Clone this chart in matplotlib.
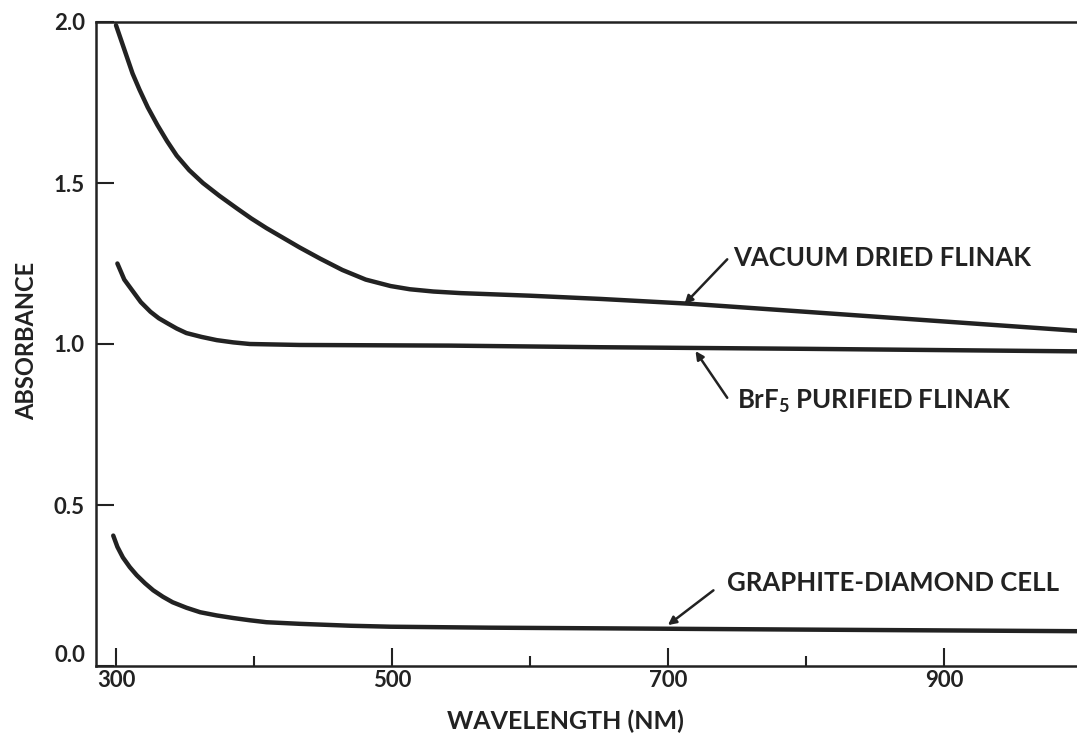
import matplotlib
matplotlib.use("Agg")
import matplotlib.pyplot as plt

# values (wavelength in nm, absorbance)
vacuum_wl = [300, 304, 308, 312, 317, 323, 330, 337, 344, 353, 363, 375, 388, 398, 409,
             421, 433, 448, 464, 481, 499, 513, 530, 550, 600, 651, 716, 800, 900, 1000]
vacuum_abs = [1.99, 1.94, 1.89, 1.84, 1.79, 1.735, 1.68, 1.63, 1.585, 1.54, 1.50, 1.46,
              1.42, 1.39, 1.36, 1.33, 1.30, 1.265, 1.23, 1.20, 1.18, 1.17, 1.163,
              1.158, 1.15, 1.14, 1.125, 1.10, 1.07, 1.04]

brf5_wl = [301, 306, 312, 318, 325, 331, 337, 344, 351, 362, 373, 385, 397, 433, 542,
           651, 800, 1000]
brf5_abs = [1.25, 1.20, 1.165, 1.13, 1.10, 1.08, 1.065, 1.048, 1.034, 1.022, 1.012,
            1.005, 1.00, 0.997, 0.995, 0.99, 0.985, 0.977]

graphite_wl = [298, 301, 305, 310, 315, 321, 327, 334, 341, 351, 361, 373, 385, 397, 409,
               433, 470, 499, 571, 651, 800, 1000]
graphite_abs = [0.405, 0.37, 0.337, 0.307, 0.282, 0.257, 0.235, 0.215, 0.198, 0.181,
                0.167, 0.157, 0.149, 0.142, 0.136, 0.131, 0.125, 0.122, 0.119, 0.117,
                0.113, 0.108]

major_x = [300, 500, 700, 900]
minor_x = [400, 600, 800]
y_ticks = [0.0, 0.5, 1.0, 1.5, 2.0]

ink = "#222222"
plt.rcParams['font.family'] = ['Lato', 'DejaVu Sans']
plt.rcParams['font.weight'] = 'bold'
plt.rcParams['mathtext.fontset'] = 'custom'
plt.rcParams['mathtext.rm'] = 'Lato:bold'

fig = plt.figure(figsize=(10.77, 7.47), dpi=100)
ax = fig.add_axes([96 / 1077, 81 / 747, 981 / 1077, 644 / 747])

for wl, ab in [(vacuum_wl, vacuum_abs), (brf5_wl, brf5_abs), (graphite_wl, graphite_abs)]:
    ax.plot(wl, ab, color=ink, lw=3.2, solid_capstyle='round', solid_joinstyle='round')

ax.set_xlim(285.5, 996.5)
ax.set_ylim(0, 1.994)

ax.spines['right'].set_visible(False)
for s in ['left', 'bottom', 'top']:
    ax.spines[s].set_linewidth(1.8)
    ax.spines[s].set_color(ink)

ax.set_xticks(major_x)
ax.set_xticks(minor_x, minor=True)
ax.set_yticks(y_ticks)
ax.set_yticklabels([f"{v:.1f}" for v in y_ticks])
ax.tick_params(axis='x', which='major', direction='in', length=13, width=1.5,
               pad=3, labelsize=16, colors=ink)
ax.tick_params(axis='x', which='minor', direction='in', length=7, width=1.5, colors=ink)
ax.tick_params(axis='y', direction='in', length=13, width=1.5, pad=8,
               labelsize=16, colors=ink)
ax.tick_params(top=False, right=False)
ax.get_yticklabels()[0].set_va('bottom')

ax.set_xlabel("WAVELENGTH (NM)", fontsize=18, fontweight='bold', color=ink)
ax.set_ylabel("ABSORBANCE", fontsize=17, fontweight='bold', color=ink)
ax.xaxis.set_label_coords(0.479, -0.068)
ax.yaxis.set_label_coords(-0.059, 0.505)

arrow = dict(arrowstyle='-|>', color=ink, lw=1.8, mutation_scale=12,
             shrinkA=0, shrinkB=0)
# arrows (tip on curve, tail near label)
ax.annotate("", xy=(712, 1.124), xytext=(743, 1.263), arrowprops=arrow)
ax.annotate("", xy=(720, 0.978), xytext=(743, 0.833), arrowprops=arrow)
ax.annotate("", xy=(700, 0.127), xytext=(733, 0.235), arrowprops=arrow)

ax.text(747, 1.266, "VACUUM DRIED FLINAK", fontsize=18.5, color=ink,
        ha='left', va='center')
ax.text(750, 0.823, r"BrF$_\mathregular{5}$ PURIFIED FLINAK", fontsize=18.5,
        color=ink, ha='left', va='center')
ax.text(743, 0.257, "GRAPHITE-DIAMOND CELL", fontsize=18.5, color=ink,
        ha='left', va='center')

fig.savefig("out.png", dpi=100)
